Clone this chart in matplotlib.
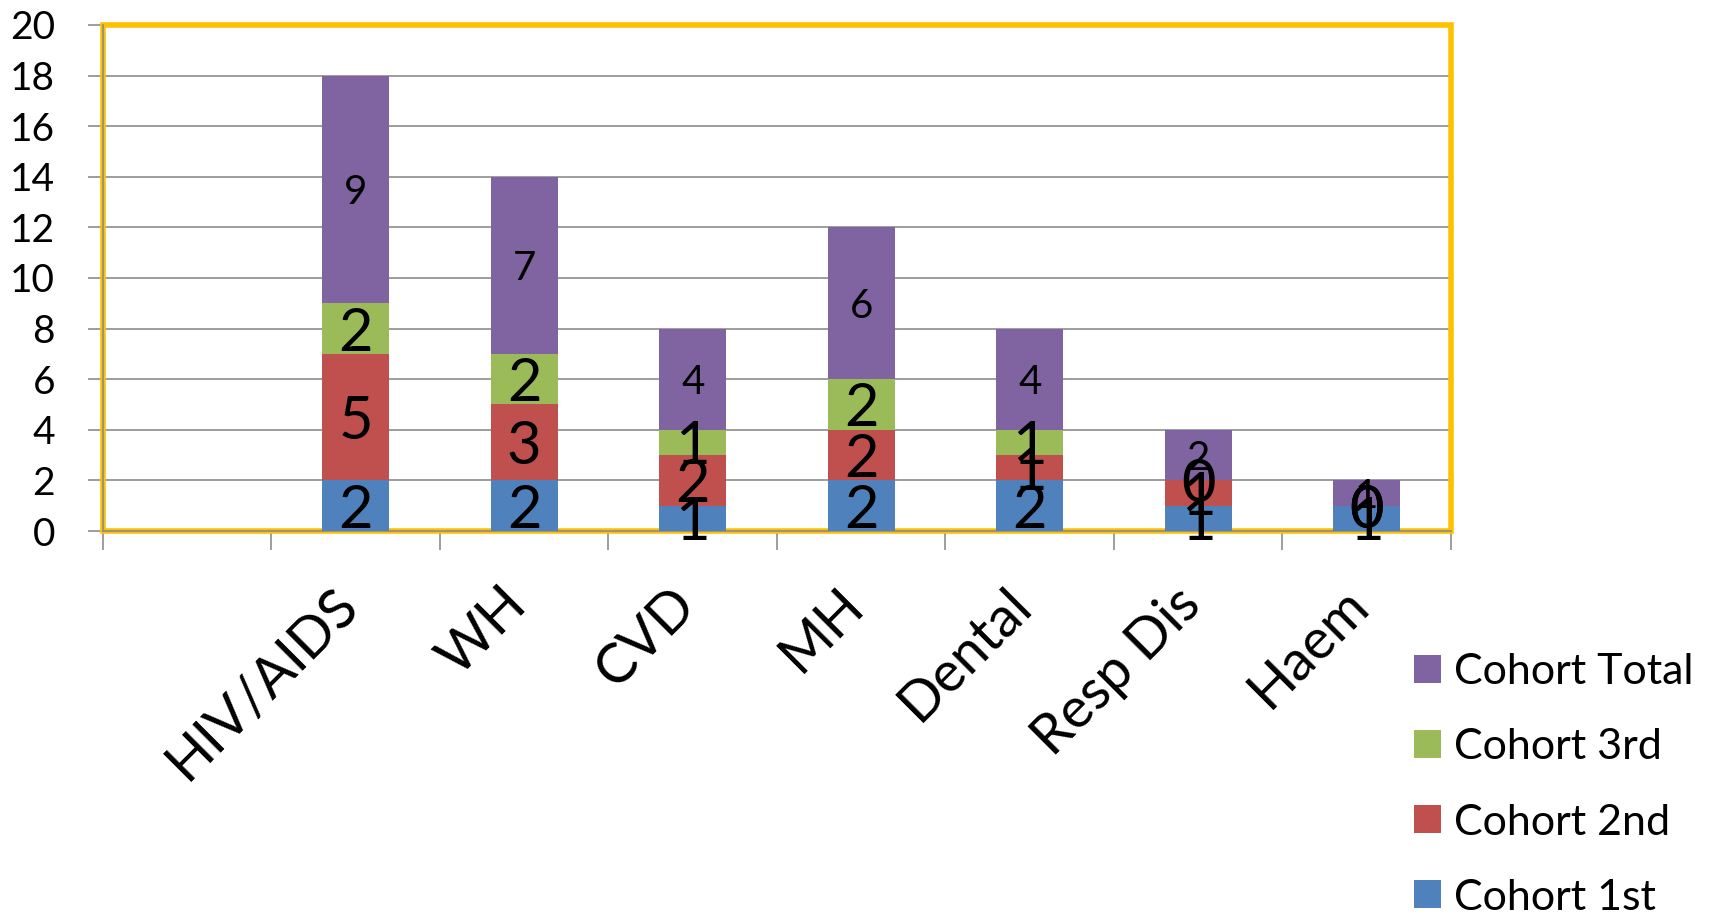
import numpy as np
import matplotlib
matplotlib.use("Agg")
import matplotlib.pyplot as plt
from matplotlib.patches import Rectangle, Patch
from matplotlib.transforms import ScaledTranslation

plt.rcParams['font.family'] = ['Lato', 'DejaVu Sans']

categories = ["", "HIV/AIDS", "WH", "CVD", "MH", "Dental", "Resp Dis", "Haem"]
cohort_1st = [np.nan, 2, 2, 1, 2, 2, 1, 1]
cohort_2nd = [np.nan, 5, 3, 2, 2, 1, 1, 0]
cohort_3rd = [np.nan, 2, 2, 1, 2, 1, 0, 0]
cohort_total = [np.nan, 9, 7, 4, 6, 4, 2, 1]
series_names = ["Cohort 1st", "Cohort 2nd", "Cohort 3rd", "Cohort Total"]
y_ticks = [0, 2, 4, 6, 8, 10, 12, 14, 16, 18, 20]

colors = ["#4F81BD", "#C0504D", "#9BBB59", "#8064A2"]
label_sizes = [43, 43, 43, 29]
grid_gray = "#8C8C8C"

fig = plt.figure(figsize=(17.15, 9.13), dpi=100)
ax = fig.add_axes([103/1715, 1 - 531/913, (1451 - 103)/1715, (531 - 25)/913])

x = np.arange(len(categories))
series = [cohort_1st, cohort_2nd, cohort_3rd, cohort_total]
bottom = np.zeros(len(categories))
handles = []
for vals, col, name, fs in zip(series, colors, series_names, label_sizes):
    v = np.array(vals, dtype=float)
    ax.bar(x, v, width=0.4, bottom=bottom, color=col, zorder=3, label=name)
    for xi, (b, h) in enumerate(zip(bottom, v)):
        if np.isnan(h):
            continue
        ax.text(xi, b + h / 2, f"{int(h)}", ha='center', va='center_baseline',
                fontsize=fs, color='black', zorder=6)
    handles.append(Patch(facecolor=col, edgecolor='none', label=name))
    bottom = bottom + np.nan_to_num(v)

ax.set_xlim(-0.5, len(categories) - 0.5)
ax.set_ylim(0, 20)
ax.set_yticks(y_ticks)
ax.set_yticklabels([str(t) for t in y_ticks])
ax.yaxis.grid(True, color=grid_gray, linewidth=1.2, zorder=0)
ax.set_axisbelow(True)

# x: boundary ticks (major) and centred labels (minor)
ax.set_xticks(np.arange(len(categories) + 1) - 0.5)
ax.set_xticklabels([])
ax.set_xticks(x, categories, minor=True)
ax.tick_params(axis='x', which='major', length=14, width=1.2, color=grid_gray)
ax.tick_params(axis='x', which='minor', length=0, pad=34, labelsize=40)
for lbl in ax.get_xticklabels(minor=True):
    lbl.set_rotation(45)
    lbl.set_ha('right')
    lbl.set_va('top')
    lbl.set_transform(lbl.get_transform() + ScaledTranslation(0.12, 0, fig.dpi_scale_trans))
ax.tick_params(axis='y', length=10.5, width=1.2, color=grid_gray, pad=24, labelsize=28)

for s in ['top', 'right']:
    ax.spines[s].set_visible(False)
for s in ['left', 'bottom']:
    ax.spines[s].set_color(grid_gray)
    ax.spines[s].set_linewidth(1.2)
    ax.spines[s].set_zorder(2)

border = Rectangle((0, 0), 1, 1, transform=ax.transAxes, fill=False,
                   edgecolor="#FFC000", linewidth=4, zorder=1.5, clip_on=False)
ax.add_patch(border)

fig.legend(handles=handles[::-1], loc='center left',
           bbox_to_anchor=(1414/1715, 1 - 785/913), bbox_transform=fig.transFigure,
           frameon=False, fontsize=31, handlelength=0.63, handleheight=0.63,
           handletextpad=0.3, labelspacing=0.86, borderpad=0, borderaxespad=0)

fig.savefig("out.png", dpi=100)
